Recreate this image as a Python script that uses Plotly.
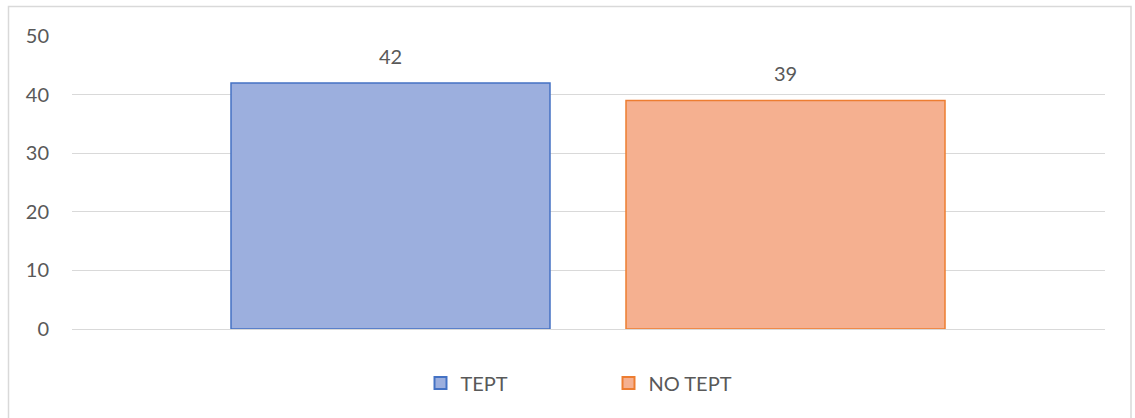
import plotly.graph_objects as go

categories = ["TEPT", "NO TEPT"]
values = [42, 39]
fills = ["#9CAFDE", "#F5B090"]
borders = ["#4472C4", "#ED7D31"]
tick_vals = [0, 10, 20, 30, 40, 50]

W, H = 1135, 418
L, T = 72, 36
pw, ph = 1033, 293
R, B = W - L - pw, H - T - ph

bar_w = 319 / pw
centre = 588.5
offsets = [(231 - centre) / pw, (626 - centre) / pw]

FONT = "Lato, 'Open Sans', sans-serif"
GREY = "#595959"

fig = go.Figure()
for name, v, fc, bc, off in zip(categories, values, fills, borders, offsets):
    fig.add_trace(go.Bar(
        x=[0], y=[v], name=name, width=[bar_w], offset=[off],
        marker=dict(color=fc, line=dict(color=bc, width=1.5)),
        cliponaxis=False,
    ))
    fig.add_annotation(x=off + bar_w / 2, y=v, xref="x", yref="y",
                       text=str(v), showarrow=False, yanchor="bottom", yshift=13,
                       font=dict(family=FONT, size=20, color=GREY))

fig.update_layout(
    width=W, height=H,
    margin=dict(l=L, r=R, t=T, b=B),
    paper_bgcolor="white", plot_bgcolor="white",
    font=dict(family=FONT, color=GREY, size=20),
    barmode="overlay",
    showlegend=True,
    legend=dict(orientation="h", x=0.5 + 20 / pw, xanchor="center",
                y=-(383 - 329) / ph, yanchor="middle",
                font=dict(family=FONT, size=20, color=GREY), entrywidth=143,
                itemsizing="constant"),
    xaxis=dict(showticklabels=False, showgrid=False, zeroline=False,
               range=[-0.5, 0.5], showline=False),
    yaxis=dict(range=[0, 50], tickvals=tick_vals, showgrid=True, gridcolor="#D9D9D9",
               gridwidth=1, zeroline=True, zerolinecolor="#D9D9D9", zerolinewidth=1,
               showline=False, ticks="", ticklabelstandoff=22,
               tickfont=dict(family=FONT, size=20, color=GREY)),
    shapes=[dict(type="rect", xref="paper", yref="paper",
                 x0=(8.5 - L) / pw, x1=(1131 - L) / pw,
                 y0=(T + ph - 430) / ph, y1=(T + ph - 6.5) / ph,
                 line=dict(color="#D9D9D9", width=1.5), fillcolor="rgba(0,0,0,0)",
                 layer="below")],
)
fig.write_html(
    "out.html",
    config={"displayModeBar": False},
    post_script="document.body.style.margin='0';document.body.style.overflow='hidden';",
)
